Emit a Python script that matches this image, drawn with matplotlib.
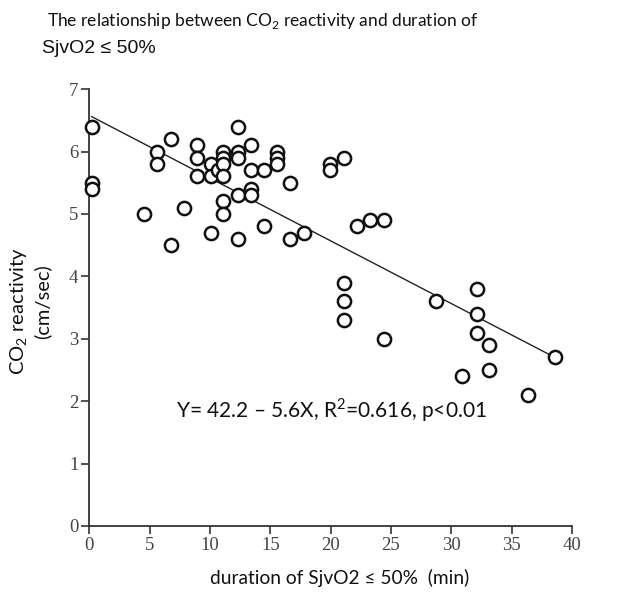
import numpy as np
import matplotlib
matplotlib.use("Agg")
import matplotlib.pyplot as plt

# durations as they sit on the drawn axis, and CO2 reactivity
duration = [0.18, 0.18, 0.18,
            4.55,
            5.63, 5.63,
            6.74, 6.74,
            7.85,
            8.95, 8.95, 8.95,
            10.07, 10.07, 10.07,
            10.70,
            11.11, 11.11, 11.11, 11.11, 11.11, 11.11,
            12.31, 12.31, 12.31, 12.31, 12.31,
            13.39, 13.39, 13.39, 13.39,
            14.49, 14.49,
            15.55, 15.55, 15.55,
            16.65, 16.65,
            17.76,
            19.98, 19.98,
            21.08, 21.08, 21.08, 21.08,
            22.19,
            23.30,
            24.40, 24.40,
            28.70,
            30.91,
            32.10, 32.10, 32.10,
            33.12, 33.12,
            36.40,
            38.60]
reactivity = [6.4, 5.5, 5.4,
              5.0,
              6.0, 5.8,
              6.2, 4.5,
              5.1,
              6.1, 5.9, 5.6,
              5.8, 5.6, 4.7,
              5.7,
              6.0, 5.9, 5.8, 5.6, 5.2, 5.0,
              6.4, 6.0, 5.9, 5.3, 4.6,
              6.1, 5.7, 5.4, 5.3,
              5.7, 4.8,
              6.0, 5.9, 5.8,
              5.5, 4.6,
              4.7,
              5.8, 5.7,
              5.9, 3.9, 3.6, 3.3,
              4.8,
              4.9,
              4.9, 3.0,
              3.6,
              2.4,
              3.8, 3.4, 3.1,
              2.9, 2.5,
              2.1,
              2.7]

fit_x = [0.18, 38.6]
fit_y = [6.56, 2.70]

x_ticks = [0, 5, 10, 15, 20, 25, 30, 35, 40]
y_ticks = [0, 1, 2, 3, 4, 5, 6, 7]

plt.rcParams['mathtext.fontset'] = 'custom'
plt.rcParams['mathtext.rm'] = 'Lato'

fig = plt.figure(figsize=(6.34, 5.94), dpi=100)
ax = fig.add_axes([0.141, 0.1145, 0.761, 0.7355])

ax.plot(fit_x, fit_y, color='#222222', lw=1.0, zorder=2)
ax.plot(duration, reactivity, 'o', ms=9.5, mfc='white', mec='#111111', mew=1.8,
        clip_on=False, zorder=3)

ax.set_xlim(0, 40)
ax.set_ylim(0, 7)
ax.set_xticks(x_ticks)
ax.set_yticks(y_ticks)
for s in ['top', 'right']:
    ax.spines[s].set_visible(False)
for s in ['left', 'bottom']:
    ax.spines[s].set_color('#333333')
    ax.spines[s].set_linewidth(1.3)
ax.tick_params(direction='out', length=6, width=1.2, color='#333333',
               labelsize=13.5, labelcolor='#444444', pad=2)
for lab in ax.get_xticklabels() + ax.get_yticklabels():
    lab.set_family('Liberation Serif')

ax.text(0.179, 0.266, 'Y= 42.2 – 5.6X, R$^{\\mathregular{2}}$=0.616, p<0.01',
        transform=ax.transAxes, fontsize=15, family=['Lato', 'DejaVu Sans'],
        va='center', ha='left', color='#111111')

fig.text(0.074, 0.964, 'The relationship between CO$_{\\mathregular{2}}$ reactivity and duration of',
         fontsize=12.5, family=['Lato', 'DejaVu Sans'], va='center', ha='left',
         color='#111111')
fig.text(0.066, 0.919, 'SjvO2 ≤ 50%', fontsize=14, family='Liberation Sans',
         va='center', ha='left', color='#111111')

fig.text(0.535, 0.027, 'duration of SjvO2 ≤ 50%  (min)', fontsize=13.8,
         family=['Lato', 'DejaVu Sans'], va='center', ha='center', color='#111111')
fig.text(0.031, 0.476, 'CO$_{\\mathregular{2}}$ reactivity', fontsize=14.5, rotation=90,
         family=['Lato', 'DejaVu Sans'], va='center', ha='center', color='#111111')
fig.text(0.066, 0.493, '(cm/sec)', fontsize=14.5, rotation=90,
         family=['Lato', 'DejaVu Sans'], va='center', ha='center', color='#111111')

fig.savefig('out.png', dpi=100)
